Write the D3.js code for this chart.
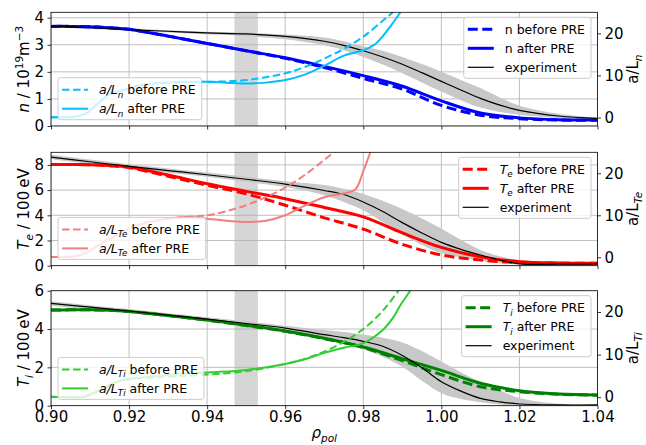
<!DOCTYPE html>
<html>
<head>
<meta charset="utf-8">
<script src="https://cdn.jsdelivr.net/npm/d3@7"></script>
<style>
  html, body { margin: 0; padding: 0; background: #fff; }
  svg text { font-family: "DejaVu Sans", sans-serif; fill: #000; }
</style>
</head>
<body>
<svg id="chart" width="646" height="445"></svg>
<script>
// ---------- data ----------
const xTicks = [0.90, 0.92, 0.94, 0.96, 0.98, 1.00, 1.02, 1.04];
const rightTicks = [0, 10, 20];
const prePeriod = [0.947, 0.953];

// density profiles (10^19 m^-3)
const rhoProf = [0.90, 0.905, 0.91, 0.915, 0.92, 0.93, 0.94, 0.95, 0.96, 0.97, 0.98, 0.99, 1.00, 1.01, 1.02, 1.03, 1.04];
const nBefore = [3.68, 3.68, 3.67, 3.63, 3.57, 3.32, 3.05, 2.78, 2.50, 2.16, 1.76, 1.36, 0.76, 0.40, 0.27, 0.22, 0.21];
const nAfter  = [3.68, 3.68, 3.67, 3.63, 3.57, 3.32, 3.05, 2.78, 2.52, 2.20, 1.86, 1.47, 0.93, 0.48, 0.30, 0.23, 0.22];

const rhoExp  = [0.90, 0.91, 0.92, 0.93, 0.94, 0.95, 0.96, 0.97, 0.975, 0.98, 0.985, 0.99, 0.995, 1.00, 1.005, 1.01, 1.015, 1.02, 1.03, 1.04];
const nExp    = [3.70, 3.63, 3.56, 3.50, 3.44, 3.40, 3.31, 3.13, 2.98, 2.78, 2.55, 2.28, 1.97, 1.65, 1.33, 1.02, 0.77, 0.58, 0.37, 0.28];
const nExpLo  = [3.65, 3.58, 3.52, 3.45, 3.38, 3.33, 3.20, 2.98, 2.80, 2.55, 2.27, 1.95, 1.61, 1.27, 0.95, 0.68, 0.52, 0.42, 0.30, 0.26];
const nExpHi  = [3.74, 3.67, 3.60, 3.54, 3.48, 3.45, 3.38, 3.27, 3.13, 2.95, 2.78, 2.55, 2.29, 2.00, 1.70, 1.40, 1.05, 0.75, 0.45, 0.30];

const rhoLnA = [0.90, 0.906, 0.909, 0.912, 0.915, 0.92, 0.923, 0.93, 0.94, 0.945, 0.95, 0.955, 0.96, 0.965, 0.97, 0.975, 0.98, 0.983, 0.986, 0.988, 0.9895, 0.991];
const aLnAfter = [0.1, 0.2, 1.0, 3.3, 5.5, 6.9, 7.7, 8.3, 8.5, 8.3, 8.1, 8.3, 8.9, 10.2, 12.3, 14.7, 16.0, 17.4, 20.5, 23.0, 25.0, 27.5];
const rhoLnB = [0.90, 0.906, 0.909, 0.912, 0.915, 0.92, 0.923, 0.93, 0.94, 0.945, 0.95, 0.955, 0.96, 0.965, 0.97, 0.975, 0.98, 0.985, 0.9875, 0.989];
const aLnBefore = [0.1, 0.2, 1.0, 3.3, 5.5, 6.9, 7.7, 8.3, 8.5, 8.6, 8.9, 9.6, 10.5, 12.0, 14.0, 16.3, 19.2, 23.0, 25.0, 27.0];

// electron temperature (100 eV)
const teBefore = [8.03, 8.03, 8.02, 7.93, 7.78, 7.10, 6.38, 5.70, 4.80, 3.80, 2.90, 1.70, 0.85, 0.45, 0.25, 0.20, 0.19];
const teAfter  = [8.03, 8.03, 8.02, 7.95, 7.83, 7.20, 6.50, 5.90, 5.32, 4.62, 3.87, 2.60, 1.45, 0.71, 0.32, 0.22, 0.20];
const teExp    = [8.62, 8.25, 7.88, 7.55, 7.22, 6.86, 6.48, 5.97, 5.65, 5.06, 4.30, 3.42, 2.60, 1.85, 1.30, 0.85, 0.45, 0.15, 0.12, 0.15];
const teExpLo  = [8.45, 8.08, 7.72, 7.38, 7.05, 6.66, 6.25, 5.60, 5.05, 4.40, 3.45, 2.45, 1.65, 1.00, 0.65, 0.40, 0.20, 0.10, 0.12, 0.14];
const teExpHi  = [8.80, 8.42, 8.05, 7.72, 7.40, 7.06, 6.70, 6.40, 6.10, 5.70, 5.15, 4.50, 3.75, 2.95, 2.05, 1.25, 0.75, 0.45, 0.22, 0.18];

const rhoLTeA = [0.90, 0.906, 0.909, 0.912, 0.915, 0.92, 0.925, 0.93, 0.935, 0.94, 0.945, 0.95, 0.955, 0.96, 0.965, 0.97, 0.975, 0.978, 0.98, 0.9818, 0.983];
const aLTeAfter = [0.1, 0.2, 1.0, 2.8, 4.3, 6.9, 8.4, 9.2, 9.6, 9.2, 8.7, 8.4, 8.7, 10.0, 12.3, 14.3, 15.2, 16.2, 20.5, 25.0, 28.0];
const rhoLTeB = [0.90, 0.906, 0.909, 0.912, 0.915, 0.92, 0.925, 0.93, 0.935, 0.94, 0.945, 0.95, 0.955, 0.96, 0.965, 0.97, 0.9725, 0.974];
const aLTeBefore = [0.1, 0.2, 1.0, 2.8, 4.3, 6.9, 8.4, 9.2, 9.6, 10.0, 11.0, 12.4, 14.3, 16.6, 19.6, 23.2, 25.2, 27.0];

// ion temperature (100 eV)
const tiBefore = [4.99, 5.00, 5.00, 4.98, 4.92, 4.70, 4.46, 4.18, 3.88, 3.50, 3.04, 2.35, 1.62, 0.99, 0.73, 0.60, 0.55];
const tiAfter  = [4.99, 5.00, 5.00, 4.98, 4.92, 4.70, 4.47, 4.20, 3.90, 3.52, 3.06, 2.45, 1.84, 1.17, 0.78, 0.61, 0.56];
const tiExp    = [5.34, 5.14, 4.94, 4.73, 4.52, 4.29, 4.05, 3.71, 3.55, 3.36, 3.10, 2.62, 1.98, 1.25, 0.76, 0.38, 0.20, 0.09, 0.04, 0.04];
const tiExpLo  = [5.22, 5.03, 4.85, 4.64, 4.43, 4.19, 3.93, 3.45, 3.22, 2.95, 2.55, 2.03, 1.30, 0.65, 0.35, 0.18, 0.06, 0.00, 0.00, 0.00];
const tiExpHi  = [5.45, 5.24, 5.04, 4.83, 4.62, 4.40, 4.17, 3.95, 3.85, 3.72, 3.55, 3.30, 2.85, 2.30, 1.75, 1.25, 0.80, 0.40, 0.10, 0.05];

const rhoLTiA = [0.90, 0.905, 0.908, 0.9105, 0.9126, 0.9168, 0.921, 0.93, 0.94, 0.95, 0.96, 0.965, 0.97, 0.975, 0.98, 0.985, 0.9875, 0.9895, 0.992, 0.9935];
const aLTiAfter = [0.1, 0.0, 0.0, 0.8, 1.7, 3.6, 4.4, 5.2, 5.8, 6.4, 7.8, 8.9, 10.4, 11.6, 12.7, 15.8, 18.5, 21.6, 25.0, 27.5];
const rhoLTiB = [0.90, 0.905, 0.908, 0.9105, 0.9126, 0.9168, 0.921, 0.925, 0.93, 0.94, 0.95, 0.96, 0.965, 0.97, 0.975, 0.98, 0.985, 0.989, 0.991];
const aLTiBefore = [0.1, 0.0, 0.0, 0.8, 1.7, 3.6, 4.4, 4.5, 4.8, 5.3, 6.1, 7.8, 9.0, 10.7, 13.0, 16.0, 20.3, 25.0, 27.5];

// ---------- layout ----------
const svg = d3.select("#chart");
const X0 = 51, X1 = 597.5;
const FS = 15, LFS = 12.5;
const grid = "#b0b0b0";

const x = d3.scaleLinear().domain([0.90, 1.04]).range([X0, X1]);

function zip(xs, ys) { return xs.map((v, i) => [v, ys[i]]); }

// text with italic parts, sub- and superscripts
function rich(sel, parts, fs) {
  let shift = 0;
  parts.forEach(p => {
    const target = p.sub ? 0.28 * fs : p.sup ? -0.42 * fs : 0;
    const ts = sel.append("tspan").text(p.t).attr("dy", target - shift);
    shift = target;
    if (p.sub || p.sup) ts.attr("font-size", fs * 0.7);
    if (p.i) ts.attr("font-style", "italic");
  });
  return sel;
}

const panels = [
  {
    top: 12.3, bottom: 126, yMax: 4.2, yTicks: [0, 1, 2, 3, 4], fmt: d3.format("d"),
    main: "#0000ff", grad: "#00bfff",
    before: zip(rhoProf, nBefore), after: zip(rhoProf, nAfter),
    exp: zip(rhoExp, nExp), lo: nExpLo, hi: nExpHi,
    gBefore: zip(rhoLnB, aLnBefore), gAfter: zip(rhoLnA, aLnAfter),
    yLabel: [{t: "n", i: true}, {t: " / 10"}, {t: "19", sup: true}, {t: "m"}, {t: "\u22123", sup: true}],
    rLabel: [{t: "a/L"}, {t: "n", i: true, sub: true}],
    legMain: [[{t: "n before PRE"}], [{t: "n after PRE"}]],
    legGrad: [[{t: "a/L", i: true}, {t: "n", i: true, sub: true}, {t: " before PRE"}],
              [{t: "a/L", i: true}, {t: "n", i: true, sub: true}, {t: " after PRE"}]],
    xLabels: false
  },
  {
    top: 152.3, bottom: 265.7, yMax: 9, yTicks: [0, 2, 4, 6, 8], fmt: d3.format("d"),
    main: "#ff0000", grad: "#f08080",
    before: zip(rhoProf, teBefore), after: zip(rhoProf, teAfter),
    exp: zip(rhoExp, teExp), lo: teExpLo, hi: teExpHi,
    gBefore: zip(rhoLTeB, aLTeBefore), gAfter: zip(rhoLTeA, aLTeAfter),
    yLabel: [{t: "T", i: true}, {t: "e", i: true, sub: true}, {t: " / 100\u2009eV"}],
    rLabel: [{t: "a/L"}, {t: "Te", i: true, sub: true}],
    legMain: [[{t: "T", i: true}, {t: "e", i: true, sub: true}, {t: " before PRE"}],
              [{t: "T", i: true}, {t: "e", i: true, sub: true}, {t: " after PRE"}]],
    legGrad: [[{t: "a/L", i: true}, {t: "Te", i: true, sub: true}, {t: " before PRE"}],
              [{t: "a/L", i: true}, {t: "Te", i: true, sub: true}, {t: " after PRE"}]],
    xLabels: false
  },
  {
    top: 290.7, bottom: 405.7, yMax: 6, yTicks: [0, 2, 4, 6], fmt: d3.format("d"),
    main: "#008000", grad: "#32cd32",
    before: zip(rhoProf, tiBefore), after: zip(rhoProf, tiAfter),
    exp: zip(rhoExp, tiExp), lo: tiExpLo, hi: tiExpHi,
    gBefore: zip(rhoLTiB, aLTiBefore), gAfter: zip(rhoLTiA, aLTiAfter),
    yLabel: [{t: "T", i: true}, {t: "i", i: true, sub: true}, {t: " / 100\u2009eV"}],
    rLabel: [{t: "a/L"}, {t: "Ti", i: true, sub: true}],
    legMain: [[{t: "T", i: true}, {t: "i", i: true, sub: true}, {t: " before PRE"}],
              [{t: "T", i: true}, {t: "i", i: true, sub: true}, {t: " after PRE"}]],
    legGrad: [[{t: "a/L", i: true}, {t: "Ti", i: true, sub: true}, {t: " before PRE"}],
              [{t: "a/L", i: true}, {t: "Ti", i: true, sub: true}, {t: " after PRE"}]],
    xLabels: true
  }
];

const MAIN_W = 3, GRAD_W = 2;
const MAIN_DASH = "10,4.5", GRAD_DASH = "7.5,3.5";

function legend(g, entries, x0, y0, anchorRight) {
  const lg = g.append("g");
  const box = lg.append("rect");
  const rowH = 19;
  let maxW = 0;
  entries.forEach((e, i) => {
    const cy = 12 + i * rowH;
    lg.append("line").attr("x1", 4).attr("x2", 30).attr("y1", cy).attr("y2", cy)
      .attr("stroke", e.color).attr("stroke-width", e.w)
      .attr("stroke-dasharray", e.dash || null);
    const t = lg.append("text").attr("x", 41).attr("y", cy + 4.5).attr("font-size", LFS);
    rich(t, e.label, LFS);
    maxW = Math.max(maxW, t.node().getComputedTextLength());
  });
  const w = 41 + maxW + 6, h = 12 + (entries.length - 1) * rowH + 11;
  box.attr("width", w).attr("height", h).attr("rx", 2.5)
    .attr("fill", "rgba(255,255,255,0.8)").attr("stroke", "#cccccc").attr("stroke-width", 1);
  const lx = anchorRight ? x0 - w : x0;
  const ly = anchorRight ? y0 : y0 - h;
  lg.attr("transform", `translate(${lx},${ly})`);
}

panels.forEach((p, k) => {
  const y = d3.scaleLinear().domain([0, p.yMax]).range([p.bottom, p.top]);
  const yr = d3.scaleLinear().domain([-2, 25]).range([p.bottom, p.top]);
  const g = svg.append("g");
  const clipId = "clip" + k;
  svg.append("clipPath").attr("id", clipId).append("rect")
    .attr("x", X0).attr("y", p.top).attr("width", X1 - X0).attr("height", p.bottom - p.top);
  const plot = g.append("g").attr("clip-path", `url(#${clipId})`);

  // PRE time window
  plot.append("rect").attr("x", x(prePeriod[0])).attr("width", x(prePeriod[1]) - x(prePeriod[0]))
    .attr("y", p.top).attr("height", p.bottom - p.top).attr("fill", "#d6d6d6");

  // grid
  xTicks.forEach(t => plot.append("line").attr("x1", x(t)).attr("x2", x(t))
    .attr("y1", p.top).attr("y2", p.bottom).attr("stroke", grid).attr("stroke-width", 0.8));
  p.yTicks.forEach(t => plot.append("line").attr("x1", X0).attr("x2", X1)
    .attr("y1", y(t)).attr("y2", y(t)).attr("stroke", grid).attr("stroke-width", 0.8));

  // experimental uncertainty band
  const area = d3.area().x((d, i) => x(rhoExp[i])).y0((d, i) => y(p.lo[i])).y1((d, i) => y(p.hi[i]))
    .curve(d3.curveCatmullRom.alpha(0.5));
  plot.append("path").datum(rhoExp).attr("d", area).attr("fill", "#c8c8c8");

  const line = d3.line().x(d => x(d[0])).y(d => y(d[1])).curve(d3.curveCatmullRom.alpha(0.5));
  const lineR = d3.line().x(d => x(d[0])).y(d => yr(d[1])).curve(d3.curveCatmullRom.alpha(0.5));

  plot.append("path").datum(p.before).attr("d", line).attr("fill", "none")
    .attr("stroke", p.main).attr("stroke-width", MAIN_W).attr("stroke-dasharray", MAIN_DASH);
  plot.append("path").datum(p.after).attr("d", line).attr("fill", "none")
    .attr("stroke", p.main).attr("stroke-width", MAIN_W);
  plot.append("path").datum(p.exp).attr("d", line).attr("fill", "none")
    .attr("stroke", "#000").attr("stroke-width", 1.2);

  // normalised gradients on the right axis
  plot.append("path").datum(p.gBefore).attr("d", lineR).attr("fill", "none")
    .attr("stroke", p.grad).attr("stroke-width", GRAD_W).attr("stroke-dasharray", GRAD_DASH);
  plot.append("path").datum(p.gAfter).attr("d", lineR).attr("fill", "none")
    .attr("stroke", p.grad).attr("stroke-width", GRAD_W);

  // legends
  legend(g, [
    {color: p.main, w: MAIN_W, dash: MAIN_DASH, label: p.legMain[0]},
    {color: p.main, w: MAIN_W, label: p.legMain[1]},
    {color: "#000", w: 1.2, label: [{t: "experiment"}]}
  ], X1 - 6.5, p.top + 5, true);
  legend(g, [
    {color: p.grad, w: GRAD_W, dash: GRAD_DASH, label: p.legGrad[0]},
    {color: p.grad, w: GRAD_W, label: p.legGrad[1]}
  ], X0 + 7, p.bottom - 6.3, false);

  // axes
  const axB = d3.axisBottom(x).tickValues(xTicks).tickSizeOuter(0).tickSizeInner(3.5).tickPadding(2.5)
    .tickFormat(p.xLabels ? d3.format(".2f") : () => "");
  const axL = d3.axisLeft(y).tickValues(p.yTicks).tickSizeOuter(0).tickSizeInner(3.5).tickPadding(3.5).tickFormat(p.fmt);
  const axR = d3.axisRight(yr).tickValues(rightTicks).tickSizeOuter(0).tickSizeInner(3.5).tickPadding(3.5);
  [[axB, `translate(0,${p.bottom})`], [axL, `translate(${X0},0)`], [axR, `translate(${X1},0)`]].forEach(([ax, tr]) => {
    const a = g.append("g").attr("transform", tr).call(ax);
    a.select(".domain").remove();
    a.selectAll("line").attr("stroke", "#000").attr("stroke-width", 0.8);
    a.selectAll("text").attr("font-size", FS).attr("font-family", "DejaVu Sans").attr("fill", "#000");
  });
  g.append("rect").attr("x", X0).attr("y", p.top).attr("width", X1 - X0).attr("height", p.bottom - p.top)
    .attr("fill", "none").attr("stroke", "#000").attr("stroke-width", 0.8);

  // axis titles
  const cy = (p.top + p.bottom) / 2;
  const yl = g.append("text").attr("transform", `translate(29,${cy}) rotate(-90)`)
    .attr("text-anchor", "middle").attr("font-size", FS);
  rich(yl, p.yLabel, FS);
  const rl = g.append("text").attr("transform", `translate(638,${cy}) rotate(-90)`)
    .attr("text-anchor", "middle").attr("font-size", FS);
  rich(rl, p.rLabel, FS);
});

const xl = svg.append("text").attr("x", (X0 + X1) / 2).attr("y", 438).attr("text-anchor", "middle").attr("font-size", FS);
rich(xl, [{t: "\u03c1", i: true}, {t: "pol", i: true, sub: true}], FS);
</script>
</body>
</html>
